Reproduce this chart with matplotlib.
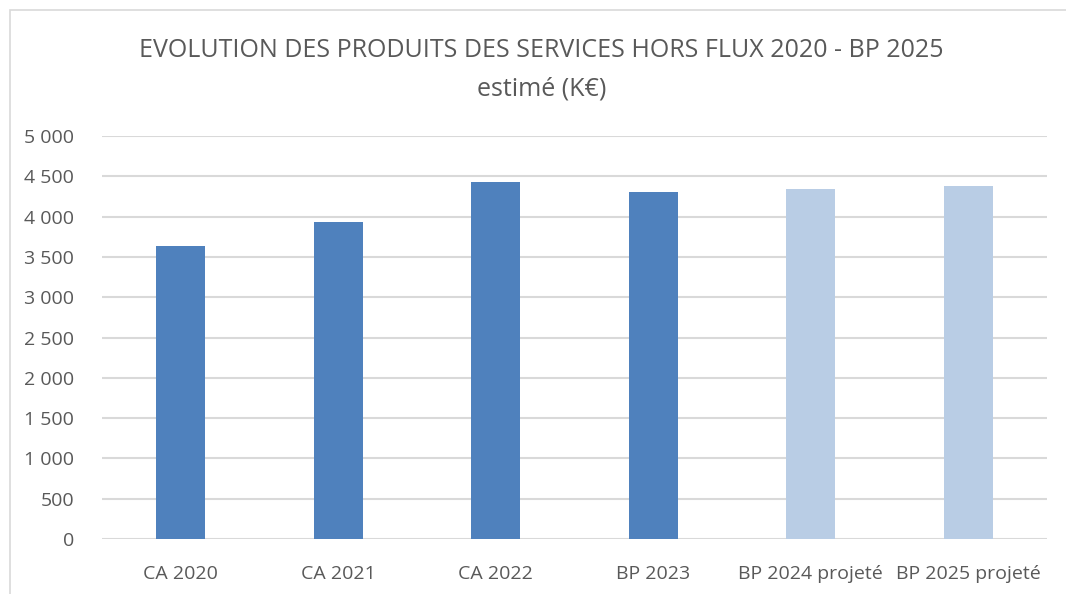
import matplotlib.pyplot as plt
from matplotlib.patches import Rectangle
from matplotlib.ticker import FuncFormatter

categories = ["CA 2020", "CA 2021", "CA 2022", "BP 2023", "BP 2024 projeté", "BP 2025 projeté"]
values = [3640, 3934, 4430, 4310, 4347, 4384]
projected = [False, False, False, False, True, True]

plt.rcParams['font.family'] = ['Open Sans', 'DejaVu Sans']

fig = plt.figure(figsize=(10.66, 5.94), dpi=100)
ax = fig.add_axes([0.0957, 0.0926, 0.8865, 0.6784])

colors = ["#B9CDE5" if p else "#4F81BD" for p in projected]
x = range(len(categories))
ax.bar(x, values, width=0.31, color=colors, zorder=3)

ax.set_xlim(-0.5, len(categories) - 0.5)
ax.set_ylim(0, 5000)
ax.set_yticks(range(0, 5001, 500))
ax.yaxis.set_major_formatter(FuncFormatter(lambda v, p: f"{int(v):,}".replace(",", " ")))
ax.set_xticks(list(x))
ax.set_xticklabels(categories)
ax.grid(axis="y", color="#D9D9D9", linewidth=1.5, zorder=0)
for s in ax.spines.values():
    s.set_visible(False)
ax.tick_params(axis="both", length=0, colors="#595959")
ax.tick_params(axis="y", labelsize=14, pad=20)
ax.tick_params(axis="x", labelsize=14, pad=19)

fig.text(0.508, 0.915, "EVOLUTION DES PRODUITS DES SERVICES HORS FLUX 2020 - BP 2025",
         ha="center", va="center", fontsize=18, color="#595959")
fig.text(0.508, 0.851, "estimé (K€)", ha="center", va="center", fontsize=18, color="#595959")

# chart frame
fig.patches.append(Rectangle((10 / 1066, -0.1), 1.2, 1 - 10 / 594 + 0.1, transform=fig.transFigure,
                             fill=False, edgecolor="#D9D9D9", linewidth=1.2))

fig.savefig("out.png", dpi=100)
